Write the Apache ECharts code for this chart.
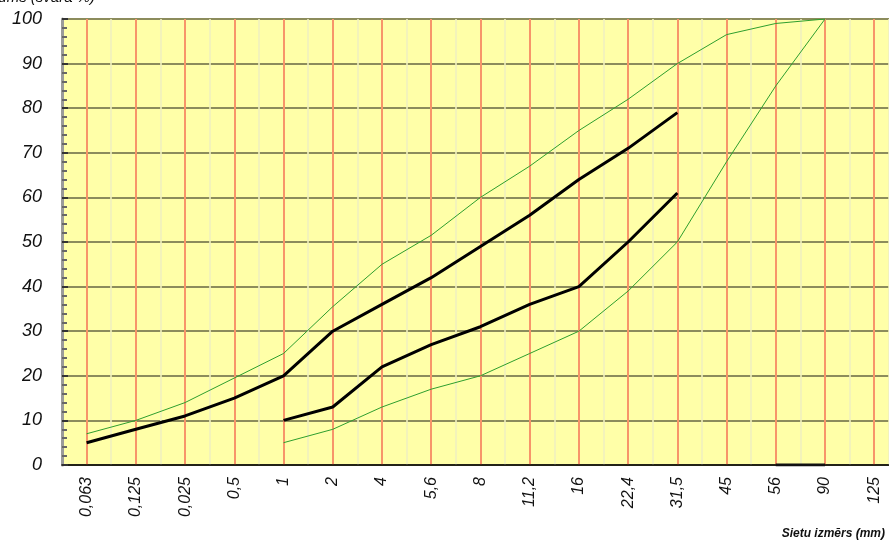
<!DOCTYPE html>
<html><head><meta charset="utf-8">
<script src="https://cdn.jsdelivr.net/npm/echarts@6/dist/echarts.min.js"></script>
<style>html,body{margin:0;padding:0;background:#fff}#c{width:889px;height:542px}</style>
</head><body><div id="c"></div>
<script>
const categories = ['0,063','0,125','0,025','0,5','1','2','4','5,6','8','11,2','16','22,4','31,5','45','56','90','125'];
const upperLimit = [7, 10, 14, 19.5, 25, 35.5, 45, 51.5, 60, 67, 75, 82, 90, 96.5, 99, 100, null];
const lowerLimit = [null, null, null, null, 5, 8, 13, 17, 20, 25, 30, 39, 50, 68, 85, 100, null];
const upperCurve = [5, 8, 11, 15, 20, 30, 36, 42, 49, 56, 64, 71, 79, null, null, null, null];
const lowerCurve = [null, null, null, null, 10, 13, 22, 27, 31, 36, 40, 50, 61, null, null, null, null];
const baseSegment = [null, null, null, null, null, null, null, null, null, null, null, null, null, null, 0, 0, null];
const yTicks = [0, 10, 20, 30, 40, 50, 60, 70, 80, 90, 100];

function pts(arr){ const out=[]; arr.forEach((v,i)=>{ if(v!==null) out.push([i,v]); }); return out; }

const chart = echarts.init(document.getElementById('c'), null, {renderer:'canvas'});
const font = '"Liberation Sans", Arial, sans-serif';
chart.setOption({
  animation:false,
  backgroundColor:'#ffffff',
  grid:{left:62, top:19, bottom:77, right:0, show:true, backgroundColor:'#ffffa8', borderWidth:0},
  xAxis:{
    type:'value', min:-0.5, max:16.3, interval:0.5,
    axisLine:{show:true, onZero:false, lineStyle:{color:'#000', width:1.5}},
    axisTick:{show:false},
    axisLabel:{
      rotate:90, margin:12, fontSize:16, fontStyle:'italic', color:'#111', fontFamily:font, showMaxLabel:false,
      formatter:function(v){ const i=Math.round(v*2)/2; return Number.isInteger(i) && categories[i]!==undefined ? categories[i] : ''; }
    },
    splitLine:{show:true, lineStyle:{color:['rgba(240,240,190,0.8)','#f7956a'], width:2}}
  },
  yAxis:{
    type:'value', min:yTicks[0], max:yTicks[yTicks.length-1], interval:10,
    axisLine:{show:true, onZero:false, lineStyle:{color:'#9a9a9a', width:3}},
    axisTick:{show:true, inside:true, length:6, lineStyle:{color:'#333', width:2}},
    minorTick:{show:true, splitNumber:5, length:5, lineStyle:{color:'#666', width:2}},
    axisLabel:{margin:20, fontSize:18, fontStyle:'italic', color:'#111', fontFamily:font},
    splitLine:{show:true, lineStyle:{color:'#8c8c5c', width:2}}
  },
  series:[
    {type:'line', data:pts(upperLimit), symbol:'none', lineStyle:{color:'#2e9e2e', width:1}, z:3},
    {type:'line', data:pts(lowerLimit), symbol:'none', lineStyle:{color:'#2e9e2e', width:1}, z:3},
    {type:'line', data:pts(upperCurve), symbol:'none', lineStyle:{color:'#000', width:3}, z:4},
    {type:'line', data:pts(lowerCurve), symbol:'none', lineStyle:{color:'#000', width:3}, z:4},
    {type:'line', data:pts(baseSegment), symbol:'none', lineStyle:{color:'#111', width:3}, z:4}
  ],
  graphic:[
    {type:'text', right:794, top:-10, style:{text:'Caurgājums (svara %)', font:'italic 15px '+font, fill:'#111'}},
    {type:'text', right:4, top:528, style:{text:'Sietu izmērs (mm)', font:'italic bold 12px '+font, fill:'#111'}}
  ]
});
</script></body></html>
